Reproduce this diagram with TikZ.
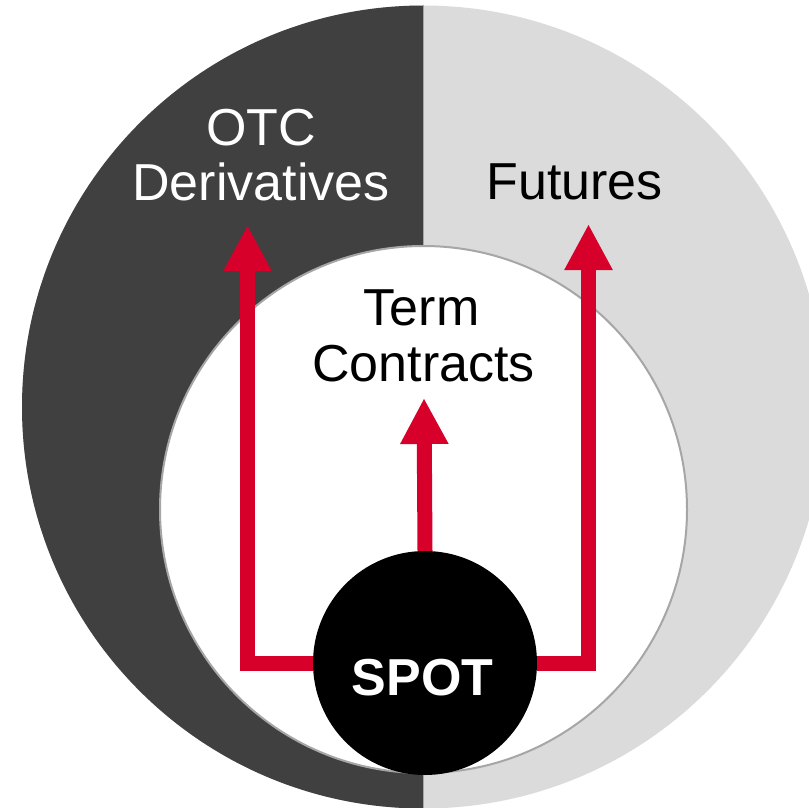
\documentclass[tikz,border=0pt]{standalone}
\usepackage{fontspec}
\setmainfont{Liberation Sans}
\usetikzlibrary{arrows.meta}
\definecolor{darkband}{HTML}{404040}
\definecolor{lightband}{HTML}{DBDBDB}
\definecolor{flowred}{HTML}{D7002B}
\definecolor{ringline}{HTML}{A6A6A6}
\begin{document}
\begin{tikzpicture}[x=1pt,y=-1pt,
  flow/.style={draw=flowred, line width=15pt, line join=miter,
    -{Triangle[width=45pt,length=46pt]}},
  caption/.style={font=\fontsize{52}{56}\selectfont, anchor=base, inner sep=0pt},
]
\useasboundingbox (0,0) rectangle (809,808);
\coordinate (c) at (423.5,407);
% outer disc: dark left half, light right half
\begin{scope}
  \clip (0,0) rectangle (809,808);
  \fill[lightband] (c) circle[radius=401.5];
  \begin{scope}
    \clip (0,0) rectangle (423.5,808);
    \fill[darkband] (c) circle[radius=401.5];
  \end{scope}
  \draw[ringline, line width=1pt] (423.5,5.5) -- (423.5,808.5);
\end{scope}
% inner disc and spot disc
\node[circle, fill=white, draw=ringline, line width=2pt, minimum size=527pt, inner sep=0pt]
  (inner) at (423.5,509.5) {};
\node[circle, fill=black, minimum size=224pt, inner sep=0pt] (spot) at (425,663) {};
% arrow targets
\coordinate (ltip) at (247.5,225);
\coordinate (mtip) at (424,398);
\coordinate (rtip) at (588.5,224);
\draw[flow] (spot.west) -| (ltip);
\draw[flow] (spot.north) -- (mtip);
\draw[flow] (spot.east) -| (rtip);
% labels
\node[caption, text=white] (otc) at (261,145) {OTC};
\node[caption, text=white] (deriv) at (261,200) {Derivatives};
\node[caption] (futures) at (574.5,199) {Futures};
\node[caption] (term) at (421.5,325) {Term};
\node[caption] (contracts) at (423.5,381) {Contracts};
\node[caption, text=white, font=\fontsize{52}{56}\selectfont\bfseries] (spottext) at (422.5,695) {SPOT};
\end{tikzpicture}
\end{document}
